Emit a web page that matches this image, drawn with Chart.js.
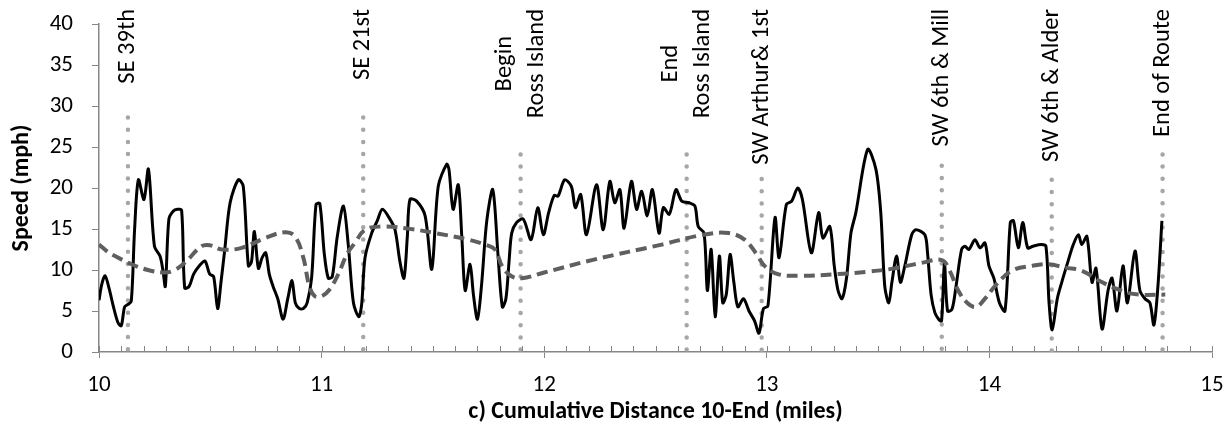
<!DOCTYPE html>
<html lang="en">
<head>
<meta charset="UTF-8">
<title>Speed vs cumulative distance</title>
<script src="https://cdn.jsdelivr.net/npm/chart.js"></script>
<style>
    body { margin: 0; background: #fff; }
    #wrap { width: 1228px; height: 429px; position: relative; }
</style>
</head>
<body>
<div id="wrap"><canvas id="speedChart"></canvas></div>
<script>
// measured speed along the route
const distance = [10.000, 10.012, 10.027, 10.045, 10.065, 10.085, 10.100, 10.115, 10.130, 10.145,
    10.160, 10.177, 10.202, 10.222, 10.249, 10.274, 10.287, 10.298, 10.314, 10.334,
    10.352, 10.371, 10.385, 10.405, 10.425, 10.450, 10.476, 10.497, 10.515, 10.533,
    10.548, 10.565, 10.589, 10.626, 10.648, 10.671, 10.685, 10.698, 10.716, 10.733,
    10.749, 10.765, 10.782, 10.803, 10.827, 10.848, 10.867, 10.882, 10.900, 10.918,
    10.935, 10.955, 10.975, 10.992, 11.012, 11.030, 11.048, 11.070, 11.098, 11.120,
    11.143, 11.167, 11.180, 11.195, 11.225, 11.250, 11.273, 11.307, 11.330, 11.352,
    11.370, 11.385, 11.397, 11.427, 11.465, 11.495, 11.524, 11.562, 11.572, 11.591,
    11.614, 11.630, 11.645, 11.667, 11.682, 11.700, 11.718, 11.742, 11.769, 11.792,
    11.812, 11.828, 11.842, 11.854, 11.876, 11.906, 11.941, 11.971, 11.996, 12.020,
    12.045, 12.062, 12.092, 12.122, 12.140, 12.164, 12.190, 12.235, 12.265, 12.295,
    12.317, 12.340, 12.359, 12.392, 12.415, 12.438, 12.463, 12.486, 12.516, 12.535,
    12.562, 12.592, 12.618, 12.651, 12.677, 12.692, 12.718, 12.733, 12.750, 12.768,
    12.787, 12.802, 12.818, 12.835, 12.852, 12.870, 12.895, 12.920, 12.945, 12.965,
    12.985, 13.005, 13.037, 13.055, 13.088, 13.112, 13.139, 13.160, 13.200, 13.233,
    13.252, 13.283, 13.303, 13.320, 13.338, 13.358, 13.378, 13.400, 13.453, 13.490,
    13.512, 13.530, 13.548, 13.562, 13.583, 13.600, 13.620, 13.651, 13.670, 13.710,
    13.722, 13.738, 13.755, 13.772, 13.785, 13.798, 13.812, 13.832, 13.850, 13.875,
    13.890, 13.908, 13.935, 13.958, 13.980, 13.998, 14.020, 14.045, 14.070, 14.094,
    14.108, 14.130, 14.150, 14.172, 14.196, 14.233, 14.254, 14.268, 14.282, 14.305,
    14.325, 14.347, 14.377, 14.400, 14.415, 14.438, 14.461, 14.479, 14.506, 14.533,
    14.551, 14.573, 14.600, 14.620, 14.654, 14.676, 14.699, 14.721, 14.739, 14.757,
    14.775];
const speed = [6.3, 8.2, 9.3, 7.8, 5.5, 3.6, 3.2, 5.5, 5.8, 6.2,
    15.0, 21.0, 18.6, 22.3, 12.9, 11.7, 10.0, 8.0, 16.2, 17.2,
    17.4, 17.3, 7.8, 8.0, 9.5, 10.5, 11.1, 9.5, 9.2, 5.3,
    8.5, 12.5, 18.2, 21.0, 20.2, 10.5, 11.0, 14.7, 10.2, 11.5,
    12.1, 9.5, 8.0, 6.5, 4.0, 6.5, 8.7, 6.0, 5.3, 5.3,
    6.0, 9.0, 18.0, 18.1, 12.0, 9.0, 9.2, 14.0, 17.8, 13.0,
    6.0, 4.3, 5.8, 11.5, 14.5, 16.0, 17.4, 16.2, 14.9, 11.0,
    9.0, 14.0, 18.6, 18.4, 16.6, 10.1, 20.2, 22.9, 22.3, 17.4,
    20.4, 14.0, 7.5, 10.7, 7.0, 4.0, 8.0, 16.0, 19.8, 12.0,
    5.5, 6.5, 11.0, 14.5, 15.8, 16.2, 13.7, 17.6, 14.3, 17.0,
    19.1, 19.0, 21.0, 20.2, 17.6, 19.2, 14.3, 20.4, 14.9, 20.8,
    18.2, 19.8, 15.1, 20.8, 17.4, 19.6, 16.6, 19.8, 14.5, 17.6,
    16.8, 19.8, 18.4, 18.2, 17.8, 15.3, 14.5, 7.5, 12.5, 4.3,
    11.7, 6.0, 7.0, 11.9, 8.5, 5.5, 6.5, 5.0, 3.8, 2.3,
    5.3, 5.6, 16.4, 11.5, 18.0, 18.4, 20.0, 18.6, 12.1, 17.0,
    13.9, 15.3, 10.5, 7.5, 6.5, 9.0, 14.5, 17.0, 24.7, 22.3,
    17.0, 8.0, 6.0, 8.5, 11.7, 8.5, 10.5, 14.3, 14.9, 14.3,
    12.1, 7.0, 4.8, 4.0, 3.8, 10.8, 5.0, 5.2, 8.0, 12.5,
    12.9, 12.5, 13.7, 12.7, 13.3, 10.5, 9.0, 6.0, 5.0, 15.8,
    16.0, 12.7, 15.8, 12.7, 12.9, 13.1, 12.9, 6.0, 2.7, 6.5,
    8.5, 10.5, 13.1, 14.3, 13.1, 14.1, 8.5, 10.2, 2.8, 7.5,
    9.0, 5.0, 10.5, 6.0, 12.3, 7.5, 6.5, 6.0, 3.3, 8.0,
    16.0];

// smoothed trend (dashed)
const trendDistance = [10.000, 10.040, 10.072, 10.147, 10.220, 10.296, 10.340, 10.386, 10.461, 10.500,
    10.551, 10.641, 10.746, 10.836, 10.880, 10.918, 10.945, 10.970, 11.000, 11.035,
    11.075, 11.115, 11.150, 11.195, 11.270, 11.375, 11.510, 11.660, 11.734, 11.779,
    11.810, 11.850, 11.900, 12.000, 12.228, 12.528, 12.715, 12.827, 12.900, 12.955,
    12.990, 13.050, 13.150, 13.320, 13.455, 13.575, 13.700, 13.786, 13.820, 13.860,
    13.900, 13.940, 13.980, 14.030, 14.100, 14.190, 14.263, 14.340, 14.416, 14.500,
    14.600, 14.670, 14.790];
const trendSpeed = [13.1, 12.2, 11.7, 10.7, 10.0, 9.7, 10.0, 10.9, 12.9, 13.0,
    12.5, 12.7, 13.9, 14.6, 14.1, 11.5, 8.0, 6.8, 6.8, 7.6,
    9.5, 12.0, 13.3, 14.9, 15.3, 15.1, 14.5, 13.7, 13.1, 12.5,
    10.5, 9.3, 9.0, 9.7, 11.3, 13.1, 14.3, 14.5, 13.7, 11.9,
    10.5, 9.5, 9.3, 9.5, 9.8, 10.2, 10.9, 11.2, 10.0, 7.5,
    6.0, 5.5, 6.5, 8.2, 9.9, 10.5, 10.7, 10.3, 9.9, 8.6,
    7.4, 7.0, 7.0];

// landmarks: label lines, position (miles), height of the marker line (mph)
const landmarkNames = [['SE 39th'], ['SE 21st'], ['Begin', 'Ross Island'], ['End', 'Ross Island'],
    ['SW Arthur& 1st'], ['SW 6th & Mill'], ['SW 6th & Alder'], ['End of Route']];
const landmarkMiles = [10.13, 11.187, 11.894, 12.64, 12.977, 13.786, 14.28, 14.778];
const landmarkTops = [28.6, 28.6, 24.1, 24.1, 21.1, 22.7, 21.0, 24.1];

const FONT = 'Carlito, Lato, sans-serif';

const markerSets = landmarkMiles.map((m, i) => ({
    data: [{x: m, y: landmarkTops[i]}, {x: m, y: 0}],
    borderColor: '#a6a6a6',
    borderWidth: 4.5,
    borderDash: [0, 12.2],
    borderCapStyle: 'round',
    pointRadius: 0,
    tension: 0,
    order: 5
}));

// minor ticks inside the plot, landmark captions above the markers
const extrasPlugin = {
    id: 'extras',
    afterDraw(chart) {
        const ctx = chart.ctx;
        const xs = chart.scales.x;
        const area = chart.chartArea;
        ctx.save();
        ctx.strokeStyle = '#868686';
        ctx.lineWidth = 1;
        for (let k = 0; k <= 50; k++) {
            const px = Math.round(xs.getPixelForValue(10 + k / 10)) + 0.5;
            ctx.beginPath();
            ctx.moveTo(px, area.bottom);
            ctx.lineTo(px, area.bottom - 6);
            ctx.stroke();
        }
        ctx.fillStyle = '#000';
        ctx.font = '24.5px ' + FONT;
        ctx.textBaseline = 'middle';
        ctx.textAlign = 'center';
        const lineGap = 32;
        landmarkNames.forEach((lines, i) => {
            const px = xs.getPixelForValue(landmarkMiles[i]);
            const w = Math.max(...lines.map(s => ctx.measureText(s).width));
            ctx.save();
            ctx.translate(px, area.top - 15);
            ctx.rotate(-Math.PI / 2);
            lines.forEach((s, j) => {
                ctx.fillText(s, -w / 2, (j - (lines.length - 1) / 2) * lineGap);
            });
            ctx.restore();
        });
        ctx.restore();
    }
};

new Chart(document.getElementById('speedChart'), {
    type: 'line',
    data: {
        datasets: [
            {
                data: trendDistance.map((d, i) => ({x: d, y: trendSpeed[i]})),
                borderColor: '#5f5f5f',
                borderWidth: 4,
                borderDash: [11, 6],
                pointRadius: 0,
                tension: 0.4,
                order: 1
            },
            {
                data: distance.map((d, i) => ({x: d, y: speed[i]})),
                borderColor: '#000',
                borderWidth: 3,
                pointRadius: 0,
                tension: 0.3,
                order: 2
            },
            ...markerSets
        ]
    },
    options: {
        responsive: true,
        maintainAspectRatio: false,
        animation: false,
        layout: { padding: { top: 24, right: 16, left: 8, bottom: 3 } },
        plugins: { legend: { display: false }, tooltip: { enabled: false } },
        scales: {
            x: {
                type: 'linear',
                min: 10,
                max: 15,
                afterFit(scale) {
                    scale.height = 74;
                    scale.paddingLeft = 0;
                    scale.paddingRight = 0;
                },
                ticks: { stepSize: 1, color: '#000', font: { family: FONT, size: 23 }, padding: 13 },
                grid: { drawOnChartArea: false, drawTicks: true, tickLength: 6, color: '#868686' },
                border: { color: '#868686', width: 1.5 },
                title: {
                    display: true,
                    text: 'c) Cumulative Distance 10-End (miles)',
                    color: '#000',
                    font: { family: FONT, size: 24, weight: 'bold' },
                    padding: { top: 0, bottom: 0 }
                }
            },
            y: {
                min: 0,
                max: 40,
                afterFit(scale) {
                    scale.width = 91;
                    scale.paddingTop = 0;
                    scale.paddingBottom = 0;
                },
                ticks: { stepSize: 5, color: '#000', font: { family: FONT, size: 23 }, padding: 19 },
                grid: { drawOnChartArea: false, drawTicks: true, tickLength: 7, color: '#868686' },
                border: { color: '#868686', width: 1.5 },
                title: {
                    display: true,
                    text: 'Speed (mph)',
                    color: '#000',
                    font: { family: FONT, size: 24, weight: 'bold' },
                    padding: { top: 0, bottom: 11 }
                }
            }
        }
    },
    plugins: [extrasPlugin]
});
</script>
</body>
</html>
